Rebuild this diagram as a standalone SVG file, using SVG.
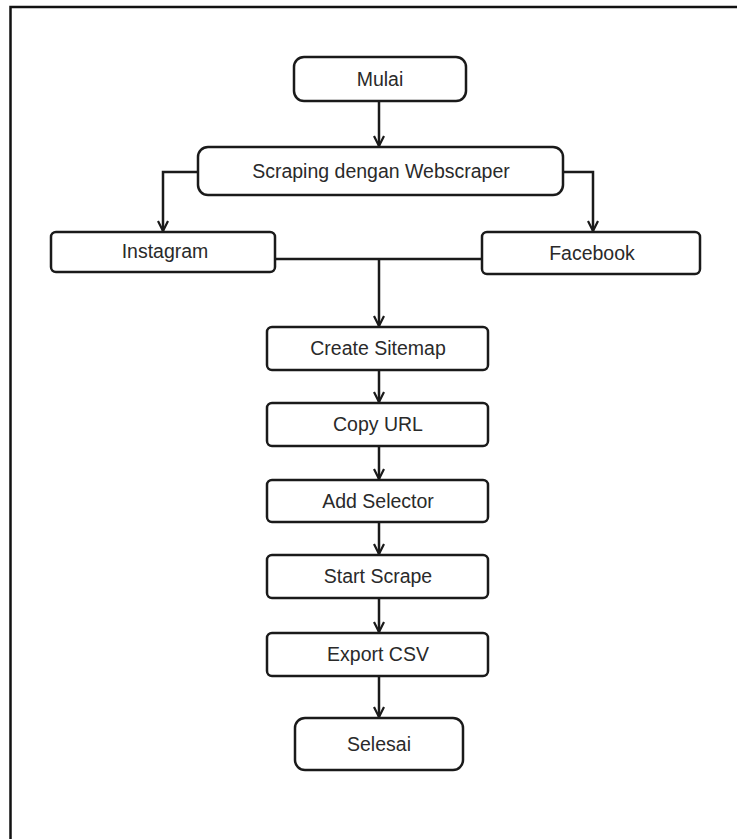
<svg xmlns="http://www.w3.org/2000/svg" width="737" height="839" viewBox="0 0 737 839">
<defs>
<marker id="ah" viewBox="0 0 12 12" refX="11" refY="6" markerWidth="12" markerHeight="12" markerUnits="userSpaceOnUse" orient="auto">
<path d="M1,1 L11,6 L1,11" fill="none" stroke="#1a1a1a" stroke-width="2.2"/>
</marker>
<style>
.b{fill:#fff;stroke:#1a1a1a;stroke-width:2.5}
.t{font-family:"Liberation Sans",Arial,sans-serif;font-size:19.5px;fill:#2a2a2a;text-anchor:middle;dominant-baseline:central}
.c{fill:none;stroke:#1a1a1a;stroke-width:2.5}
</style>
</defs>
<rect width="737" height="839" fill="#fff"/>
<path d="M10.5,839 V7 H737" fill="none" stroke="#111" stroke-width="2.5"/>
<g id="connectors">
<path class="c" d="M379,101 V146" marker-end="url(#ah)"/>
<path class="c" d="M198,172 H163 V231" marker-end="url(#ah)"/>
<path class="c" d="M563,172 H593 V231" marker-end="url(#ah)"/>
<path class="c" d="M275,259 H482"/>
<path class="c" d="M379,259 V326" marker-end="url(#ah)"/>
<path class="c" d="M379,370 V402" marker-end="url(#ah)"/>
<path class="c" d="M379,446 V479" marker-end="url(#ah)"/>
<path class="c" d="M379,522 V554" marker-end="url(#ah)"/>
<path class="c" d="M379,598 V632" marker-end="url(#ah)"/>
<path class="c" d="M379,676 V717" marker-end="url(#ah)"/>
</g>
<g id="mulai"><rect class="b" x="294" y="57" width="172" height="44" rx="10"/><text class="t" x="380" y="79">Mulai</text></g>
<g id="scraping"><rect class="b" x="198" y="147" width="365" height="48" rx="10"/><text class="t" x="381" y="171">Scraping dengan Webscraper</text></g>
<g id="instagram"><rect class="b" x="51" y="232" width="224" height="40" rx="5"/><text class="t" x="165" y="251">Instagram</text></g>
<g id="facebook"><rect class="b" x="482" y="232" width="218" height="42" rx="5"/><text class="t" x="592" y="253">Facebook</text></g>
<g id="create-sitemap"><rect class="b" x="267" y="327" width="221" height="43" rx="5"/><text class="t" x="378" y="348">Create Sitemap</text></g>
<g id="copy-url"><rect class="b" x="267" y="403" width="221" height="43" rx="5"/><text class="t" x="378" y="424">Copy URL</text></g>
<g id="add-selector"><rect class="b" x="267" y="480" width="221" height="42" rx="5"/><text class="t" x="378" y="501">Add Selector</text></g>
<g id="start-scrape"><rect class="b" x="267" y="555" width="221" height="43" rx="5"/><text class="t" x="378" y="576">Start Scrape</text></g>
<g id="export-csv"><rect class="b" x="267" y="633" width="221" height="43" rx="5"/><text class="t" x="378" y="654">Export CSV</text></g>
<g id="selesai"><rect class="b" x="295" y="718" width="168" height="52" rx="10"/><text class="t" x="379" y="744">Selesai</text></g>
</svg>
